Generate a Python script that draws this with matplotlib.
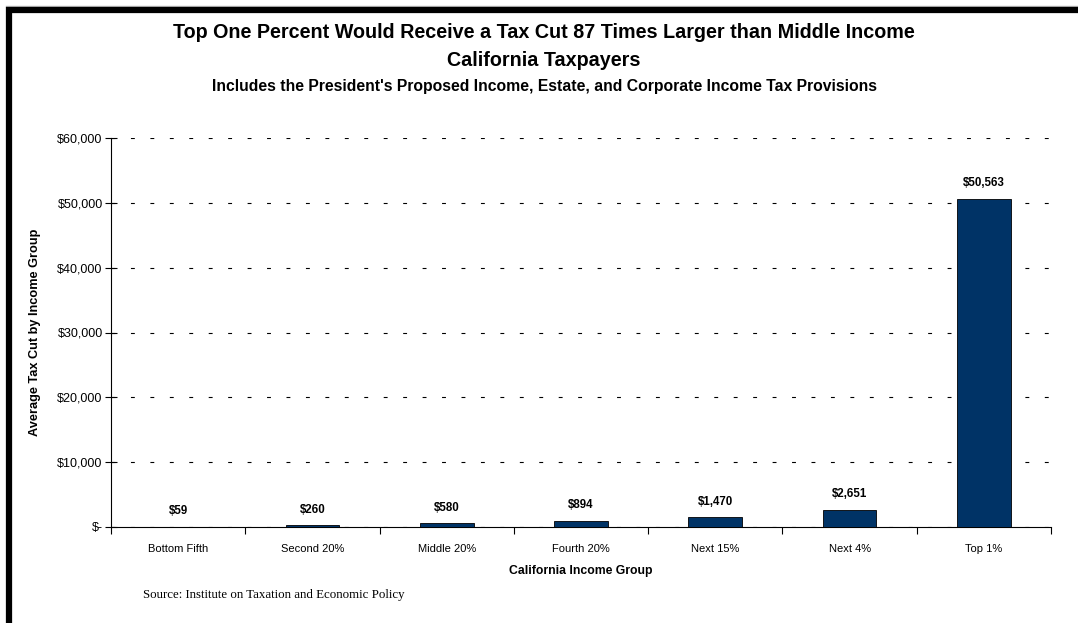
import matplotlib
matplotlib.use("Agg")
import matplotlib.pyplot as plt
from matplotlib.lines import Line2D
from matplotlib.ticker import FixedLocator

categories = ["Bottom Fifth", "Second 20%", "Middle 20%", "Fourth 20%", "Next 15%", "Next 4%", "Top 1%"]
tax_cut = [59, 260, 580, 894, 1470, 2651, 50563]
value_labels = ["$59", "$260", "$580", "$894", "$1,470", "$2,651", "$50,563"]
y_ticks = [0, 10000, 20000, 30000, 40000, 50000, 60000]
y_tick_labels = ["$-", "$10,000", "$20,000", "$30,000", "$40,000", "$50,000", "$60,000"]

plt.rcParams['font.family'] = ['Liberation Sans', 'DejaVu Sans']

W, H = 1078, 623
fig = plt.figure(figsize=(W / 100, H / 100), dpi=100)
fig.patch.set_facecolor('white')

ax = fig.add_axes([111 / W, 1 - 527 / H, (1051 - 111) / W, (527 - 138) / H])
x = list(range(len(categories)))
ax.bar(x, tax_cut, width=0.4, color='#003366', edgecolor='black', linewidth=0.6, zorder=3)
ax.set_xlim(-0.5, len(categories) - 0.5)
ax.set_ylim(0, 60000)

for xi, v, lab in zip(x, tax_cut, value_labels):
    ax.annotate(lab, (xi, v), xytext=(0, 7), textcoords='offset points',
                ha='center', va='bottom', fontsize=8.3, fontweight='bold')

ax.set_yticks(y_ticks)
ax.set_yticklabels(y_tick_labels, fontsize=9)
ax.yaxis.grid(True, linestyle=(0, (3.5, 14)), color='black', linewidth=0.8)
ax.set_axisbelow(True)

ax.set_xticks(x)
ax.set_xticklabels(categories, fontsize=8)
ax.xaxis.set_minor_locator(FixedLocator([i - 0.5 for i in range(len(categories) + 1)]))
ax.tick_params(axis='x', which='major', length=0, pad=12)
ax.tick_params(axis='x', which='minor', length=5, direction='out', width=0.8)
ax.tick_params(axis='y', direction='inout', length=8, width=0.8, pad=2)

for s in ['top', 'right']:
    ax.spines[s].set_visible(False)
ax.spines['left'].set_linewidth(0.8)
ax.spines['bottom'].set_linewidth(0.8)

ax.set_xlabel("California Income Group", fontsize=8.8, fontweight='bold', labelpad=8)
ax.set_ylabel("Average Tax Cut by Income Group", fontsize=9.2, fontweight='bold', labelpad=12)

cx = 0.5 * (175 + 913) / W
fig.text(cx, 1 - 33 / H,
         "Top One Percent Would Receive a Tax Cut 87 Times Larger than Middle Income",
         ha='center', va='center', fontsize=14.2, fontweight='bold')
fig.text(cx, 1 - 60 / H, "California Taxpayers",
         ha='center', va='center', fontsize=14.2, fontweight='bold')
fig.text(cx, 1 - 86 / H,
         "Includes the President's Proposed Income, Estate, and Corporate Income Tax Provisions",
         ha='center', va='center', fontsize=11.3, fontweight='bold')
fig.text(143 / W, 1 - 595 / H, "Source: Institute on Taxation and Economic Policy",
         ha='left', va='center', fontsize=9.3, family=['Liberation Serif', 'DejaVu Serif'])

# frame
fig.add_artist(Line2D([6 / W, 1], [1 - 6 / H, 1 - 6 / H], color='#bbbbbb', linewidth=1.0,
                      transform=fig.transFigure))
fig.add_artist(Line2D([6 / W, 1], [1 - 10 / H, 1 - 10 / H], color='black', linewidth=4.5,
                      transform=fig.transFigure, solid_capstyle='butt'))
fig.add_artist(Line2D([9 / W, 9 / W], [0, 1 - 7 / H], color='black', linewidth=4.5,
                      transform=fig.transFigure, solid_capstyle='butt'))

fig.savefig("out.png", dpi=100)
